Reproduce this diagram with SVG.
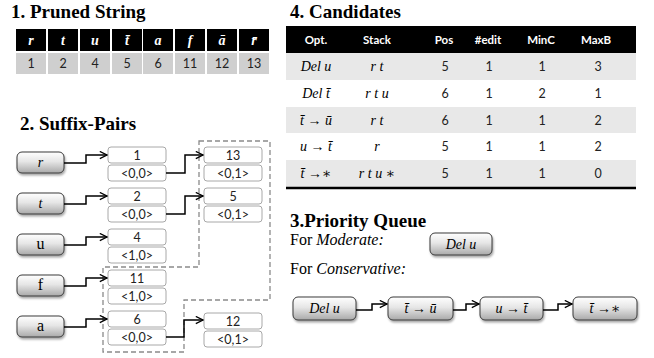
<svg xmlns="http://www.w3.org/2000/svg" width="654" height="358" viewBox="0 0 654 358">
  <defs>
    <linearGradient id="nodeFill" x1="0" y1="0" x2="0" y2="1">
      <stop offset="0" stop-color="#ffffff"/>
      <stop offset="0.45" stop-color="#e6e6e6"/>
      <stop offset="1" stop-color="#a9a9a9"/>
    </linearGradient>
    <filter id="shadow" x="-20%" y="-30%" width="140%" height="170%">
      <feDropShadow dx="1" dy="2" stdDeviation="1.2" flood-color="#000" flood-opacity="0.35"/>
    </filter>
    <marker id="chev" viewBox="0 0 10 10" refX="9" refY="5" markerWidth="9" markerHeight="9" markerUnits="userSpaceOnUse" orient="auto">
      <path d="M1,1 L9,5 L1,9" fill="none" stroke="#000" stroke-width="1.4"/>
    </marker>
  </defs>
  <style>
    .title { font-family: "Liberation Serif", serif; font-weight: bold; font-size: 19px; fill: #000; }
    .body { font-family: "Liberation Serif", serif; font-size: 16px; fill: #000; }
    .math { font-family: "Liberation Serif", "DejaVu Serif", serif; font-style: italic; font-size: 14px; fill: #000; }
    .mathw { font-family: "Liberation Serif", "DejaVu Serif", serif; font-style: italic; font-weight: bold; font-size: 14px; fill: #fff; }
    .cal { font-family: Lato, "Liberation Sans", sans-serif; font-size: 12.5px; fill: #222; }
    .head { font-family: Lato, "Liberation Sans", sans-serif; font-weight: bold; font-size: 11.5px; fill: #fff; }
    .blk { fill: #000; }
    .gry { fill: #cfcfcf; }
    .row { fill: #e8e8e8; }
    .node { fill: url(#nodeFill); stroke: #3a3a3a; stroke-width: 1; filter: url(#shadow); }
    .cell { fill: #fff; stroke: #a8a8a8; stroke-width: 1; }
    .wire { fill: none; stroke: #000; stroke-width: 1.5; marker-end: url(#chev); }
    .dash { fill: none; stroke: #8a8a8a; stroke-width: 1.3; stroke-dasharray: 5 3; }
    text { text-anchor: middle; }
    .left { text-anchor: start; }
  </style>

  <!-- Section 1: pruned string -->
  <g id="pruned-string">
    <text class="title left" x="11" y="18">1. Pruned String</text>
    <g>
      <rect class="blk" x="16" y="29" width="30" height="22"/>
      <rect class="blk" x="48" y="29" width="30" height="22"/>
      <rect class="blk" x="80" y="29" width="30" height="22"/>
      <rect class="blk" x="112" y="29" width="30" height="22"/>
      <rect class="blk" x="143" y="29" width="30" height="22"/>
      <rect class="blk" x="175" y="29" width="30" height="22"/>
      <rect class="blk" x="207" y="29" width="30" height="22"/>
      <rect class="blk" x="239" y="29" width="30" height="22"/>
      <text class="mathw" x="31" y="45">r</text>
      <text class="mathw" x="63" y="45">t</text>
      <text class="mathw" x="95" y="45">u</text>
      <text class="mathw" x="127" y="45">t̄</text>
      <text class="mathw" x="158" y="45">a</text>
      <text class="mathw" x="190" y="45">f</text>
      <text class="mathw" x="222" y="45">ā</text>
      <text class="mathw" x="254" y="45">r̄</text>
    </g>
    <g>
      <rect class="gry" x="16" y="53" width="30" height="21"/>
      <rect class="gry" x="48" y="53" width="30" height="21"/>
      <rect class="gry" x="80" y="53" width="30" height="21"/>
      <rect class="gry" x="112" y="53" width="30" height="21"/>
      <rect class="gry" x="143" y="53" width="30" height="21"/>
      <rect class="gry" x="175" y="53" width="30" height="21"/>
      <rect class="gry" x="207" y="53" width="30" height="21"/>
      <rect class="gry" x="239" y="53" width="30" height="21"/>
      <text class="cal" x="31" y="68" font-size="11">1</text>
      <text class="cal" x="63" y="68" font-size="11">2</text>
      <text class="cal" x="95" y="68" font-size="11">4</text>
      <text class="cal" x="127" y="68" font-size="11">5</text>
      <text class="cal" x="158" y="68" font-size="11">6</text>
      <text class="cal" x="190" y="68" font-size="11">11</text>
      <text class="cal" x="222" y="68" font-size="11">12</text>
      <text class="cal" x="254" y="68" font-size="11">13</text>
    </g>
  </g>

  <!-- Section 4: candidates table -->
  <g id="candidates">
    <text class="title left" x="290" y="18">4. Candidates</text>
    <rect class="blk" x="286" y="26" width="350" height="27"/>
    <rect class="row" x="286" y="53" width="350" height="27"/>
    <rect class="row" x="286" y="107" width="350" height="26"/>
    <rect class="row" x="286" y="160" width="350" height="27"/>
    <line x1="286" y1="188" x2="636" y2="188" stroke="#000" stroke-width="2.5"/>
    <g>
      <text class="head" x="316" y="44">Opt.</text>
      <text class="head" x="377" y="44">Stack</text>
      <text class="head" x="444" y="44">Pos</text>
      <text class="head" x="488" y="44">#edit</text>
      <text class="head" x="541" y="44">MinC</text>
      <text class="head" x="596" y="44">MaxB</text>
    </g>
    <g>
      <text class="math" x="316" y="71">Del u</text>
      <text class="math" x="377" y="71">r t</text>
      <text class="cal" x="445" y="71" font-size="13">5</text>
      <text class="cal" x="489" y="71" font-size="13">1</text>
      <text class="cal" x="542" y="71" font-size="13">1</text>
      <text class="cal" x="598" y="71" font-size="13">3</text>

      <text class="math" x="316" y="98">Del t̄</text>
      <text class="math" x="377" y="98">r t u</text>
      <text class="cal" x="445" y="98" font-size="13">6</text>
      <text class="cal" x="489" y="98" font-size="13">1</text>
      <text class="cal" x="542" y="98" font-size="13">2</text>
      <text class="cal" x="598" y="98" font-size="13">1</text>

      <text class="math" x="316" y="124.5">t̄ → ū</text>
      <text class="math" x="377" y="124.5">r t</text>
      <text class="cal" x="445" y="124.5" font-size="13">6</text>
      <text class="cal" x="489" y="124.5" font-size="13">1</text>
      <text class="cal" x="542" y="124.5" font-size="13">1</text>
      <text class="cal" x="598" y="124.5" font-size="13">2</text>

      <text class="math" x="316" y="151">u → t̄</text>
      <text class="math" x="377" y="151">r</text>
      <text class="cal" x="445" y="151" font-size="13">5</text>
      <text class="cal" x="489" y="151" font-size="13">1</text>
      <text class="cal" x="542" y="151" font-size="13">1</text>
      <text class="cal" x="598" y="151" font-size="13">2</text>

      <text class="math" x="316" y="178">t̄ →∗</text>
      <text class="math" x="377" y="178">r t u ∗</text>
      <text class="cal" x="445" y="178" font-size="13">5</text>
      <text class="cal" x="489" y="178" font-size="13">1</text>
      <text class="cal" x="542" y="178" font-size="13">1</text>
      <text class="cal" x="598" y="178" font-size="13">0</text>
    </g>
  </g>

  <!-- Section 2: suffix pairs -->
  <text class="title left" x="20" y="130">2. Suffix-Pairs</text>

  <path class="dash" d="M199,141 H270 V300 H184 V352 H103 V267 H199 Z"/>

  <g id="node-r"><rect class="node" x="17" y="152" width="47" height="21" rx="5"/><text class="math" x="40.5" y="167">r</text></g>
  <g id="node-t"><rect class="node" x="17" y="193" width="47" height="21" rx="5"/><text class="math" x="40.5" y="208">t</text></g>
  <g id="node-u"><rect class="node" x="17" y="234" width="47" height="21" rx="5"/><text class="body" x="40.5" y="249" font-size="13">u</text></g>
  <g id="node-f"><rect class="node" x="17" y="275" width="47" height="21" rx="5"/><text class="body" x="40.5" y="290" font-size="13">f</text></g>
  <g id="node-a"><rect class="node" x="17" y="316" width="47" height="21" rx="5"/><text class="body" x="40.5" y="331" font-size="13">a</text></g>

  <g id="pair-1"><rect class="cell" x="108" y="147" width="58" height="16" rx="3"/><rect class="cell" x="108" y="165" width="58" height="16" rx="3"/><text class="cal" x="137" y="159.5">1</text><text class="cal" x="137" y="177.5" font-size="11.5">&lt;0,0&gt;</text></g>
  <g id="pair-2"><rect class="cell" x="108" y="188" width="58" height="16" rx="3"/><rect class="cell" x="108" y="206" width="58" height="16" rx="3"/><text class="cal" x="137" y="200.5">2</text><text class="cal" x="137" y="218.5" font-size="11.5">&lt;0,0&gt;</text></g>
  <g id="pair-4"><rect class="cell" x="108" y="229" width="58" height="16" rx="3"/><rect class="cell" x="108" y="247" width="58" height="16" rx="3"/><text class="cal" x="137" y="241.5">4</text><text class="cal" x="137" y="259.5" font-size="11.5">&lt;1,0&gt;</text></g>
  <g id="pair-11"><rect class="cell" x="108" y="270" width="58" height="16" rx="3"/><rect class="cell" x="108" y="288" width="58" height="16" rx="3"/><text class="cal" x="137" y="282.5">11</text><text class="cal" x="137" y="300.5" font-size="11.5">&lt;1,0&gt;</text></g>
  <g id="pair-6"><rect class="cell" x="108" y="311" width="58" height="16" rx="3"/><rect class="cell" x="108" y="329" width="58" height="16" rx="3"/><text class="cal" x="137" y="323.5">6</text><text class="cal" x="137" y="341.5" font-size="11.5">&lt;0,0&gt;</text></g>
  <g id="pair-13"><rect class="cell" x="204" y="147" width="58" height="16" rx="3"/><rect class="cell" x="204" y="165" width="58" height="16" rx="3"/><text class="cal" x="233" y="159.5">13</text><text class="cal" x="233" y="177.5" font-size="11.5">&lt;0,1&gt;</text></g>
  <g id="pair-5"><rect class="cell" x="204" y="188" width="58" height="16" rx="3"/><rect class="cell" x="204" y="206" width="58" height="16" rx="3"/><text class="cal" x="233" y="200.5">5</text><text class="cal" x="233" y="218.5" font-size="11.5">&lt;0,1&gt;</text></g>
  <g id="pair-12"><rect class="cell" x="204" y="313" width="58" height="16" rx="3"/><rect class="cell" x="204" y="331" width="58" height="16" rx="3"/><text class="cal" x="233" y="325.5">12</text><text class="cal" x="233" y="343.5" font-size="11.5">&lt;0,1&gt;</text></g>

  <!-- Section 3: priority queue -->
  <text class="title left" x="290" y="227">3.Priority Queue</text>
  <text class="body left" x="290" y="245">For <tspan font-style="italic">Moderate:</tspan></text>
  <text class="body left" x="290" y="274" font-size="17">For <tspan font-style="italic">Conservative:</tspan></text>

  <g id="q-moderate"><rect class="node" x="430" y="233" width="62" height="22" rx="5"/><text class="math" x="461" y="248.5">Del u</text></g>
  <g id="q-del-u"><rect class="node" x="293" y="297" width="63" height="23" rx="5"/><text class="math" x="324.5" y="313">Del u</text></g>
  <g id="q-t-ubar"><rect class="node" x="388" y="297" width="65" height="23" rx="5"/><text class="math" x="420.5" y="313">t̄ → ū</text></g>
  <g id="q-u-tbar"><rect class="node" x="480" y="297" width="63" height="23" rx="5"/><text class="math" x="511.5" y="313">u → t̄</text></g>
  <g id="q-t-star"><rect class="node" x="573" y="297" width="64" height="23" rx="5"/><text class="math" x="605" y="313">t̄ →∗</text></g>

  <!-- connectors -->
  <g id="connectors">
    <path class="wire" d="M64,163 H86 V155 H107"/>
    <path class="wire" d="M64,204 H86 V196 H107"/>
    <path class="wire" d="M64,245 H86 V237 H107"/>
    <path class="wire" d="M64,286 H86 V278 H107"/>
    <path class="wire" d="M64,327 H86 V319 H107"/>
    <path class="wire" d="M166,173 H185 V155 H203"/>
    <path class="wire" d="M166,214 H185 V196 H203"/>
    <path class="wire" d="M166,337 H184 V320 H203"/>
    <path class="wire" d="M356,310 H372 V304 H387"/>
    <path class="wire" d="M453,310 H466 V304 H479"/>
    <path class="wire" d="M543,310 H558 V304 H572"/>
  </g>
</svg>
